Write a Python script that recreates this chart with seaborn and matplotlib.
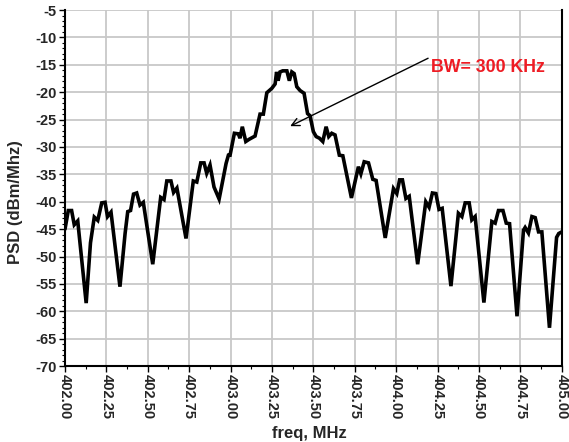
import matplotlib
matplotlib.use("Agg")
import matplotlib.pyplot as plt
from matplotlib.ticker import MultipleLocator, FormatStrFormatter
import pandas as pd
import seaborn as sns

# Measured power spectral density around the 403.35 MHz carrier
freq_mhz = [
    402.000, 402.020, 402.040, 402.056, 402.077, 402.128, 402.154, 402.177,
    402.198, 402.222, 402.242, 402.257, 402.278, 402.332, 402.363, 402.379,
    402.396, 402.414, 402.433, 402.453, 402.473, 402.530, 402.578, 402.598,
    402.615, 402.640, 402.656, 402.676, 402.731, 402.775, 402.796, 402.820,
    402.840, 402.856, 402.876, 402.900, 402.931, 402.973, 402.987, 402.997,
    403.023, 403.047, 403.057, 403.071, 403.092, 403.112, 403.148, 403.178,
    403.198, 403.219, 403.249, 403.269, 403.278, 403.287, 403.299, 403.315,
    403.340, 403.355, 403.370, 403.384, 403.400, 403.420, 403.444, 403.465,
    403.480, 403.500, 403.517, 403.537, 403.557, 403.577, 403.593, 403.611,
    403.631, 403.657, 403.678, 403.730, 403.772, 403.787, 403.807, 403.833,
    403.859, 403.879, 403.934, 403.984, 404.004, 404.021, 404.038, 404.059,
    404.079, 404.130, 404.179, 404.199, 404.219, 404.240, 404.259, 404.278,
    404.331, 404.376, 404.397, 404.417, 404.441, 404.457, 404.477, 404.530,
    404.578, 404.598, 404.618, 404.645, 404.665, 404.685, 404.730, 404.769,
    404.779, 404.799, 404.820, 404.840, 404.860, 404.880, 404.926, 404.969,
    404.982, 405.000,
]
psd_dbm = [
    -45.0, -41.6, -41.6, -44.2, -43.5, -58.5, -47.5, -42.8,
    -43.4, -40.2, -40.1, -42.7, -41.9, -55.5, -45.8, -41.8,
    -41.6, -38.6, -38.4, -40.6, -40.1, -51.4, -39.2, -39.6,
    -36.2, -36.2, -38.3, -37.5, -46.7, -36.2, -36.4, -32.9,
    -32.9, -34.8, -33.3, -37.3, -39.5, -33.0, -31.5, -31.5,
    -27.5, -27.6, -28.4, -26.3, -29.0, -28.6, -28.0, -24.0,
    -24.0, -20.1, -19.3, -18.5, -16.3, -17.9, -16.3, -16.1,
    -16.1, -17.9, -16.3, -16.6, -19.0, -19.7, -20.2, -23.9,
    -24.3, -27.2, -28.1, -28.4, -29.0, -26.3, -28.1, -27.5,
    -27.8, -31.5, -31.6, -39.3, -33.6, -34.9, -32.7, -32.9,
    -35.9, -36.1, -46.6, -37.6, -38.5, -36.0, -36.0, -39.4,
    -39.0, -51.4, -40.0, -41.0, -38.4, -38.5, -41.4, -41.2,
    -55.4, -42.1, -42.7, -40.2, -40.2, -43.3, -42.7, -58.4,
    -43.6, -43.9, -41.6, -41.6, -43.9, -44.0, -60.9, -45.2,
    -44.7, -45.7, -42.7, -42.9, -45.5, -45.5, -63.0, -46.5,
    -45.8, -45.5,
]

x_ticks = [402.00, 402.25, 402.50, 402.75, 403.00, 403.25, 403.50,
           403.75, 404.00, 404.25, 404.50, 404.75, 405.00]
y_ticks = [-70, -65, -60, -55, -50, -45, -40, -35, -30, -25, -20, -15, -10, -5]

bw_label = "BW= 300 KHz"
bw_arrow_tip = (403.36, -26.2)
bw_arrow_tail = (404.193, -13.8)
bw_label_pos = (404.21, -15.4)

sns.set_theme(style="whitegrid")
plt.rcParams["font.family"] = ["Liberation Sans", "DejaVu Sans"]
plt.rcParams["font.weight"] = "bold"

fig = plt.figure(figsize=(5.69, 4.42), dpi=100)
fig.patch.set_facecolor("white")
ax = fig.add_axes([0.1142, 0.1717, 0.8730, 0.8056])
ax.set_facecolor("white")

df = pd.DataFrame({"freq": freq_mhz, "psd": psd_dbm})
sns.lineplot(data=df, x="freq", y="psd", ax=ax, color="black",
             linewidth=2.6, sort=False, zorder=3)
ax.lines[0].set_solid_joinstyle("miter")

ax.set_xlim(402.0, 405.0)
ax.set_ylim(-70, -5)
ax.set_xticks(x_ticks)
ax.set_yticks(y_ticks)
ax.xaxis.set_major_formatter(FormatStrFormatter("%.2f"))
ax.yaxis.set_major_formatter(FormatStrFormatter("%d"))
ax.xaxis.set_minor_locator(MultipleLocator(0.125))
ax.yaxis.set_minor_locator(MultipleLocator(1))

ax.grid(True, which="major", color="#c8c8c8", linewidth=1.3)
ax.grid(False, which="minor")

for side in ("left", "bottom", "right"):
    ax.spines[side].set_visible(True)
    ax.spines[side].set_color("black")
    ax.spines[side].set_linewidth(1.5)
ax.spines["top"].set_visible(False)

ax.tick_params(axis="both", which="major", direction="out", length=4,
               width=1, color="black", labelsize=10.5, pad=2,
               bottom=True, left=True)
ax.tick_params(axis="both", which="minor", direction="out", length=2.5,
               width=0.8, color="black", bottom=True, left=True)
for lbl in ax.get_xticklabels():
    lbl.set_rotation(-90)
    lbl.set_fontweight("bold")
for lbl in ax.get_yticklabels():
    lbl.set_fontweight("bold")

ax.set_xlabel("freq, MHz", fontsize=12, fontweight="bold")
ax.set_ylabel("PSD (dBm/Mhz)", fontsize=12, fontweight="bold")
ax.xaxis.set_label_coords(0.493, -0.167)
ax.yaxis.set_label_coords(-0.085, 0.46)

ax.annotate("", xy=bw_arrow_tip, xytext=bw_arrow_tail,
            arrowprops=dict(arrowstyle="->", color="black", lw=1.0,
                            mutation_scale=14, shrinkA=0, shrinkB=0),
            zorder=4)
ax.text(bw_label_pos[0], bw_label_pos[1], bw_label, color="#ee1c24",
        fontsize=12.8, fontweight="bold", ha="left", va="center", zorder=5)

fig.savefig("out.png", dpi=100)
